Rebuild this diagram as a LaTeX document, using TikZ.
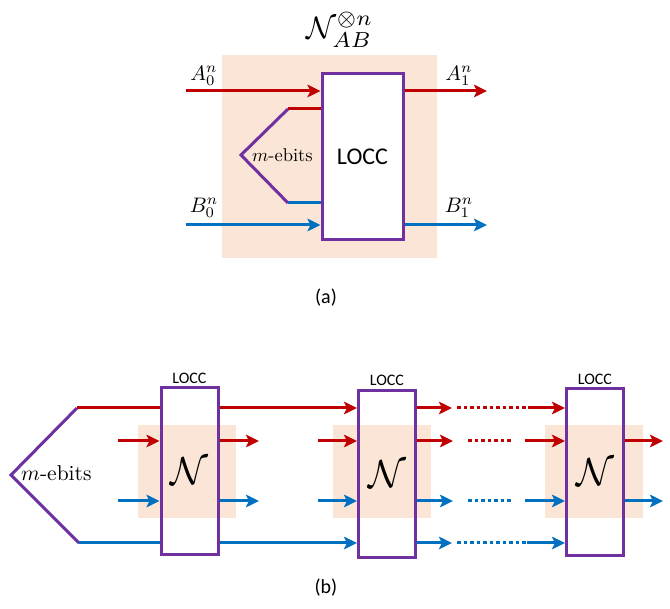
\documentclass[tikz,border=0pt]{standalone}
\usepackage{graphicx}
\usepackage{fontspec}
\newfontfamily\calibri{Carlito}
\usetikzlibrary{arrows.meta, positioning}
\definecolor{Cred}{RGB}{192,0,0}
\definecolor{Cblue}{RGB}{0,112,192}
\definecolor{Cpurple}{RGB}{112,48,160}
\definecolor{Cpeach}{RGB}{251,229,214}
\newcommand{\fsz}[1]{\fontsize{#1}{#1}\selectfont}
\newcommand{\upsz}[2]{\scalebox{#1}{#2}}

\tikzset{
  wire/.style={line width=3pt},
  arr/.style={wire, -{Stealth[length=13pt,width=12.5pt,inset=3pt]}},
  dots/.style={wire, dash pattern=on 3.5pt off 3pt},
  ebit/.style={draw=Cpurple, line width=3pt, line join=miter},
  loccbox/.style={draw=Cpurple, line width=3pt, inner sep=0pt,
    minimum width=57pt, minimum height=167pt},
  chan/.style={fill=Cpeach, inner sep=0pt, minimum width=98pt, minimum height=93pt},
}

\begin{document}
\begin{tikzpicture}[x=1pt, y=-1pt]
\useasboundingbox (0,0) rectangle (670,609);

% ---------- (a) ----------
\node (chA) [fill=Cpeach, inner sep=0pt, minimum width=215pt, minimum height=203pt] at (329.5,156.5) {};
\node (boxA) [loccbox, fill=white, minimum width=81pt, minimum height=166pt] at (362.5,157)
  {\calibri\fsz{24}LOCC};
\node (title) at (340,30) {\upsz{3.1}{$\mathcal{N}_{AB}^{\otimes n}$}};

\coordinate (a0) at (186,91);
\coordinate (a1) at (487,91);
\coordinate (b0) at (186,225);
\coordinate (b1) at (487,225);
\coordinate (eA) at (288,109);
\coordinate (eTipA) at (241,155);
\coordinate (eB) at (288,203);

\draw[arr, Cred]  (a0) -- (a0 -| boxA.west);
\draw[arr, Cred]  (boxA.east |- a0) -- (a1);
\draw[arr, Cblue] (b0) -- (b0 -| boxA.west);
\draw[arr, Cblue] (boxA.east |- b0) -- (b1);
\draw[wire, Cred]  (eA) -- (eA -| boxA.west);
\draw[wire, Cblue] (eB) -- (eB -| boxA.west);
\draw[ebit] (eA) -- (eTipA) -- (eB);

\node (ebA) [anchor=west, inner sep=0pt] at (252,155) {\upsz{1.85}{$m$-ebits}};
\node (lA0) at (204,76)  {\upsz{2.1}{$A_0^n$}};
\node (lA1) at (459,76)  {\upsz{2.1}{$A_1^n$}};
\node (lB0) at (204,208) {\upsz{2.1}{$B_0^n$}};
\node (lB1) at (459,208) {\upsz{2.1}{$B_1^n$}};
\node (capA) at (326,298) {\calibri\fsz{20}(a)};

% ---------- (b) ----------
\node (ch1) [chan] at (187,471.5) {};
\node (ch2) [chan] at (382,471.5) {};
\node (ch3) [chan] at (593.5,471.5) {};
\node (box1) [loccbox] at (189.5,471.5) {\upsz{3.9}{$\mathcal{N}$}};
\node (box2) [loccbox] at (387,474) {\upsz{3.9}{$\mathcal{N}$}};
\node (box3) [loccbox] at (595,472.5) {\upsz{3.9}{$\mathcal{N}$}};
\node (lc1) [above=3pt of box1, inner sep=0pt] {\calibri\fsz{16}LOCC};
\node (lc2) [above=3pt of box2, inner sep=0pt] {\calibri\fsz{16}LOCC};
\node (lc3) [above=3pt of box3, inner sep=0pt] {\calibri\fsz{16}LOCC};

\coordinate (wT) at (77,408);
\coordinate (wTip) at (11,475);
\coordinate (wB) at (79,543);
\draw[ebit] (wT) -- (wTip) -- (wB);
\node (ebB) [anchor=west, inner sep=0pt] at (21,473) {\upsz{2.15}{$m$-ebits}};

% outer lanes
\draw[wire, Cred]  (wT) -- (wT -| box1.west);
\draw[wire, Cblue] (wB) -- (wB -| box1.west);
\draw[arr, Cred]  (box1.east |- wT) -- (box2.west |- wT);
\draw[arr, Cblue] (box1.east |- wB) -- (box2.west |- wB);
\coordinate (tOut) at (452,408);
\coordinate (bOut) at (452,543);
\draw[arr, Cred]  (box2.east |- tOut) -- (tOut);
\draw[arr, Cblue] (box2.east |- bOut) -- (bOut);
\draw[dots, Cred]  (457,408) -- (528,408);
\draw[dots, Cblue] (457,543) -- (527,543);
\draw[arr, Cred]  (528,408) -- (box3.west |- tOut);
\draw[arr, Cblue] (527,543) -- (box3.west |- bOut);

% inner lanes
\foreach \y/\c in {441/Cred, 501/Cblue}{
  \draw[arr, \c] (118,\y) -- (box1.west |- 0,\y);
  \draw[arr, \c] (box1.east |- 0,\y) -- (259,\y);
  \draw[arr, \c] (318,\y) -- (box2.west |- 0,\y);
  \draw[arr, \c] (box2.east |- 0,\y) -- (453,\y);
  \draw[dots, \c] (468,\y) -- (511,\y);
  \draw[arr, \c] (525,\y) -- (box3.west |- 0,\y);
  \draw[arr, \c] (box3.east |- 0,\y) -- (663,\y);
}

\node (capB) at (326,588) {\calibri\fsz{20}(b)};
\end{tikzpicture}
\end{document}
